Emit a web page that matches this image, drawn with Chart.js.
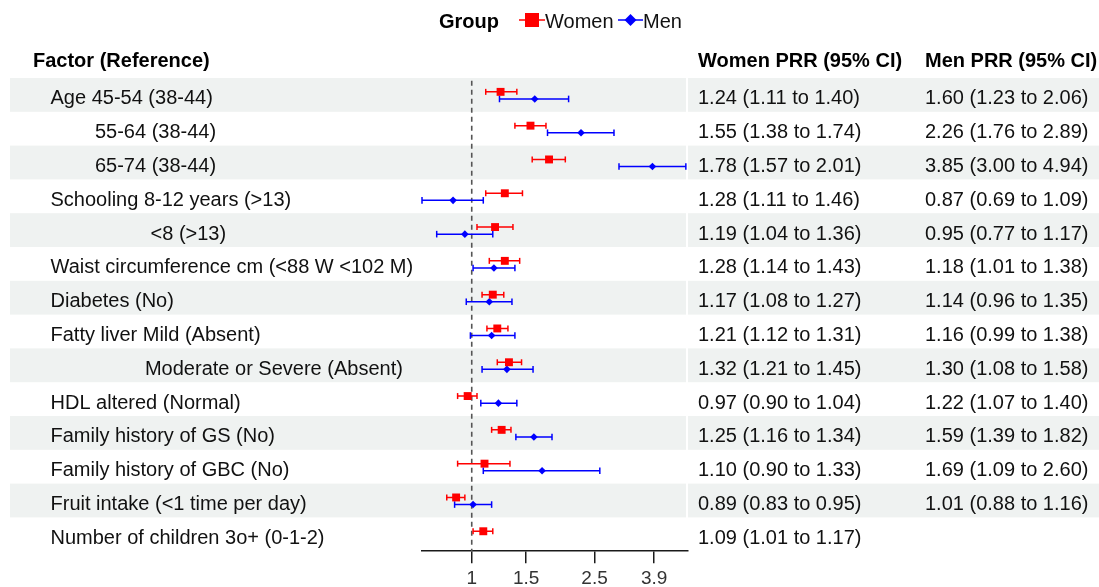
<!DOCTYPE html>
<html>
<head>
<meta charset="utf-8">
<script src="https://cdn.jsdelivr.net/npm/chart.js@4.4.1/dist/chart.umd.min.js"></script>
<style>
  html, body { margin: 0; padding: 0; background: #ffffff; }
  #wrap { width: 1099px; height: 587px; position: relative; }
</style>
</head>
<body>
<div id="wrap"><canvas id="c" width="1099" height="587"></canvas></div>
<script>
// ---- data ----
const factors = [
  "Age 45-54 (38-44)",
  "        55-64 (38-44)",
  "        65-74 (38-44)",
  "Schooling 8-12 years (>13)",
  "                  <8 (>13)",
  "Waist circumference cm (<88 W <102 M)",
  "Diabetes (No)",
  "Fatty liver Mild (Absent)",
  "                 Moderate or Severe (Absent)",
  "HDL altered (Normal)",
  "Family history of GS (No)",
  "Family history of GBC (No)",
  "Fruit intake (<1 time per day)",
  "Number of children 3o+ (0-1-2)"
];
const womenEst  = [1.24, 1.55, 1.78, 1.28, 1.19, 1.28, 1.17, 1.21, 1.32, 0.97, 1.25, 1.10, 0.89, 1.09];
const womenLow  = [1.11, 1.38, 1.57, 1.11, 1.04, 1.14, 1.08, 1.12, 1.21, 0.90, 1.16, 0.90, 0.83, 1.01];
const womenHigh = [1.40, 1.74, 2.01, 1.46, 1.36, 1.43, 1.27, 1.31, 1.45, 1.04, 1.34, 1.33, 0.95, 1.17];
const menEst  = [1.60, 2.26, 3.85, 0.87, 0.95, 1.18, 1.14, 1.16, 1.30, 1.22, 1.59, 1.69, 1.01, null];
const menLow  = [1.23, 1.76, 3.00, 0.69, 0.77, 1.01, 0.96, 0.99, 1.08, 1.07, 1.39, 1.09, 0.88, null];
const menHigh = [2.06, 2.89, 4.94, 1.09, 1.17, 1.38, 1.35, 1.38, 1.58, 1.40, 1.82, 2.60, 1.16, null];
const xTicks = [1, 1.5, 2.5, 3.9];
const groupNames = ["Women", "Men"];
const headers = ["Factor (Reference)", "Women PRR (95% CI)", "Men PRR (95% CI)"];
const legendTitle = "Group";

// ---- styling / layout ----
const RED = '#ff0000', BLUE = '#0000ff';
const TXT = '#111111';
const FONT = "'Liberation Sans', Arial, sans-serif";
const OFF_W = -0.09, OFF_M = 0.12;

function ciLine(est, lo, hi, off) {
  const pts = [];
  est.forEach((e, i) => {
    if (e === null) return;
    pts.push({x: lo[i], y: i + off});
    pts.push({x: hi[i], y: i + off});
    pts.push({x: hi[i], y: null});
  });
  return pts;
}
function caps(est, lo, hi, off) {
  const pts = [];
  est.forEach((e, i) => {
    if (e === null) return;
    pts.push({x: lo[i], y: i + off});
    pts.push({x: hi[i], y: i + off});
  });
  return pts;
}
function points(est, off) {
  return est.map((e, i) => e === null ? null : {x: e, y: i + off}).filter(p => p);
}
function fmt(e, l, h) {
  if (e === null) return "";
  return e.toFixed(2) + " (" + l.toFixed(2) + " to " + h.toFixed(2) + ")";
}

const tablePlugin = {
  id: 'forestTable',
  beforeDraw(chart) {
    const ctx = chart.ctx, y = chart.scales.y;
    ctx.save();
    ctx.fillStyle = '#ffffff';
    ctx.fillRect(0, 0, chart.width, chart.height);
    ctx.fillStyle = '#eff2f1';
    factors.forEach((f, i) => {
      if (i % 2 !== 0) return;
      const t = y.getPixelForValue(i - 0.5), b = y.getPixelForValue(i + 0.5);
      ctx.fillRect(10, t, chart.chartArea.right - 2 - 10, b - t);
      ctx.fillRect(chart.chartArea.right, t, chart.width - chart.chartArea.right, b - t);
    });
    ctx.restore();
  },
  afterDraw(chart) {
    const ctx = chart.ctx, y = chart.scales.y;
    ctx.save();
    ctx.textBaseline = 'alphabetic';
    ctx.textAlign = 'left';
    // headers
    ctx.fillStyle = '#000000';
    ctx.font = "bold 20px " + FONT;
    ctx.fillText(headers[0], 33, 67);
    ctx.fillText(headers[1], 698, 67);
    ctx.fillText(headers[2], 925, 67);
    // rows
    ctx.font = "20px " + FONT;
    ctx.fillStyle = TXT;
    factors.forEach((f, i) => {
      const c = y.getPixelForValue(i) + 9.5;
      ctx.fillText(f, 50.5, c);
      ctx.fillText(fmt(womenEst[i], womenLow[i], womenHigh[i]), 698, c);
      ctx.fillText(fmt(menEst[i], menLow[i], menHigh[i]), 925, c);
    });
    // legend
    ctx.fillStyle = '#000000';
    ctx.font = "bold 20px " + FONT;
    ctx.fillText(legendTitle, 439, 28);
    ctx.font = "20px " + FONT;
    ctx.fillStyle = TXT;
    const ly = 20;
    ctx.lineWidth = 1.5;
    ctx.strokeStyle = RED;
    ctx.beginPath(); ctx.moveTo(519, ly); ctx.lineTo(545, ly); ctx.stroke();
    ctx.fillStyle = RED;
    ctx.fillRect(525, ly - 7, 14, 14);
    ctx.fillStyle = TXT;
    ctx.fillText(groupNames[0], 545, 28);
    ctx.strokeStyle = BLUE;
    ctx.beginPath(); ctx.moveTo(618, ly); ctx.lineTo(643, ly); ctx.stroke();
    ctx.fillStyle = BLUE;
    ctx.beginPath();
    ctx.moveTo(630.5, ly - 6); ctx.lineTo(636.5, ly); ctx.lineTo(630.5, ly + 6); ctx.lineTo(624.5, ly);
    ctx.closePath(); ctx.fill();
    ctx.fillStyle = TXT;
    ctx.fillText(groupNames[1], 643, 28);
    ctx.restore();
  }
};

new Chart(document.getElementById('c'), {
  type: 'scatter',
  data: {
    datasets: [
      { label: groupNames[0] + ' est', data: points(womenEst, OFF_W), pointStyle: 'rect',
        pointRadius: 5.6, pointBackgroundColor: RED, pointBorderColor: RED, pointBorderWidth: 0, clip: false },
      { label: groupNames[1] + ' est', data: points(menEst, OFF_M), pointStyle: 'rectRot',
        pointRadius: 3.8, pointBackgroundColor: BLUE, pointBorderColor: BLUE, pointBorderWidth: 0, clip: false },
      { label: 'w caps', data: caps(womenEst, womenLow, womenHigh, OFF_W), pointStyle: 'line', rotation: 90,
        pointRadius: 3, pointBorderColor: RED, pointBorderWidth: 1.5, clip: false },
      { label: 'm caps', data: caps(menEst, menLow, menHigh, OFF_M), pointStyle: 'line', rotation: 90,
        pointRadius: 3.3, pointBorderColor: BLUE, pointBorderWidth: 1.5, clip: false },
      { type: 'line', label: 'w ci', data: ciLine(womenEst, womenLow, womenHigh, OFF_W), showLine: true,
        spanGaps: false, borderColor: RED, borderWidth: 1.5, pointRadius: 0, clip: false },
      { type: 'line', label: 'm ci', data: ciLine(menEst, menLow, menHigh, OFF_M), showLine: true,
        spanGaps: false, borderColor: BLUE, borderWidth: 1.5, pointRadius: 0, clip: false },
      { type: 'line', label: 'ref', data: [{x: 1, y: -0.42}, {x: 1, y: factors.length - 0.5}], showLine: true,
        borderColor: '#555555', borderWidth: 1.6, borderDash: [5, 4], pointRadius: 0, clip: false }
    ]
  },
  options: {
    responsive: false,
    animation: false,
    layout: { padding: { left: 422, right: 411, top: 78, bottom: -7 } },
    plugins: { legend: { display: false }, tooltip: { enabled: false } },
    scales: {
      x: {
        type: 'logarithmic',
        min: 0.69, max: 5.02,
        afterBuildTicks(scale) { scale.ticks = xTicks.map(v => ({value: v})); },
        ticks: {
          callback: (v) => String(v),
          color: '#333333',
          font: { family: FONT, size: 19 },
          padding: 4,
          maxRotation: 0,
          autoSkip: false
        },
        grid: { display: true, drawOnChartArea: false, drawTicks: true, tickLength: 12, color: '#1a1a1a', lineWidth: 1.5 },
        border: { display: true, color: '#1a1a1a', width: 1.5 }
      },
      y: {
        type: 'linear', display: false, reverse: true,
        min: -0.5, max: factors.length - 0.5
      }
    }
  },
  plugins: [tablePlugin]
});
</script>
</body>
</html>
